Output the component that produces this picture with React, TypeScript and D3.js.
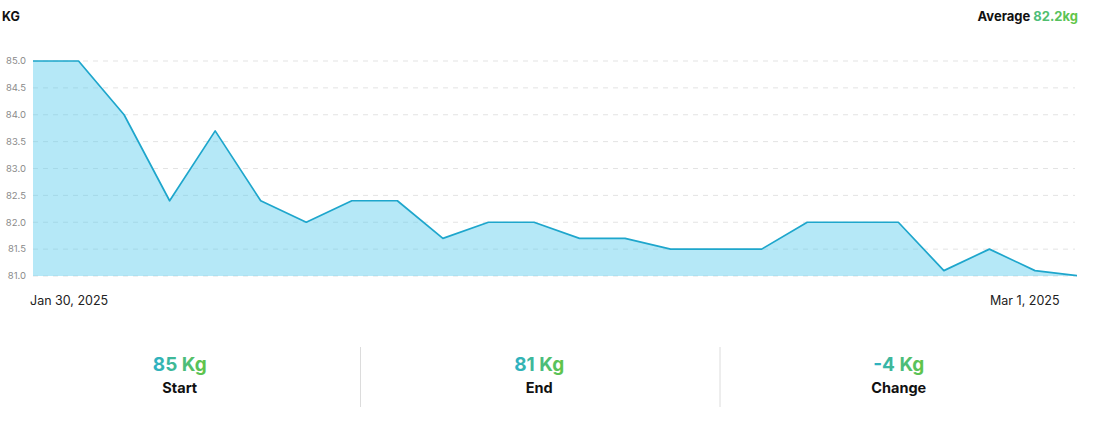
import React from "react";
import * as d3 from "d3";

const dates = [
  "2025-01-30","2025-01-31","2025-02-01","2025-02-02","2025-02-03","2025-02-04",
  "2025-02-05","2025-02-06","2025-02-07","2025-02-08","2025-02-09","2025-02-10",
  "2025-02-11","2025-02-12","2025-02-13","2025-02-14","2025-02-15","2025-02-16",
  "2025-02-17","2025-02-18","2025-02-19","2025-02-20","2025-02-21","2025-03-01",
];
const weights = [
  85.0, 85.0, 84.0, 82.4, 83.7, 82.4, 82.0, 82.4, 82.4, 81.7, 82.0, 82.0,
  81.7, 81.7, 81.5, 81.5, 81.5, 82.0, 82.0, 82.0, 81.1, 81.5, 81.1, 81.0,
];
const yTicks = [81.0, 81.5, 82.0, 82.5, 83.0, 83.5, 84.0, 84.5, 85.0];
const xLabels = ["Jan 30, 2025", "Mar 1, 2025"];
const statLabels = ["Start", "End", "Change"];

const W = 1095;
const H = 423;
const FONT = "Inter, 'Noto Sans', sans-serif";

export default function App() {
  const left = 33;
  const right = 1077;
  const top = 61;
  const bottom = 276;

  const x = d3.scalePoint<string>().domain(dates).range([left, 1080.5]);
  const y = d3.scaleLinear().domain([81, 85]).range([bottom, top]);

  const data = dates.map((d, i) => ({ d, v: weights[i] }));
  const line = d3.line<{ d: string; v: number }>().x((p) => x(p.d)!).y((p) => y(p.v));
  const area = d3
    .area<{ d: string; v: number }>()
    .x((p) => x(p.d)!)
    .y0(y(81))
    .y1((p) => y(p.v));

  const start = weights[0];
  const end = weights[weights.length - 1];
  const change = end - start;
  const avg = d3.mean(weights)!;
  const fmtInt = (v: number) => String(Math.round(v));
  const statValues = [`${fmtInt(start)} Kg`, `${fmtInt(end)} Kg`, `${fmtInt(change)} Kg`];

  const colW = 359.5;

  return (
    <svg
      width={W}
      height={H}
      style={{ position: "absolute", left: 0, top: 0, background: "#fff" }}
      fontFamily={FONT}
    >
      <defs>
        <linearGradient id="tg" x1="0" y1="0" x2="1" y2="0">
          <stop offset="0%" stopColor="#2bb0c8" />
          <stop offset="100%" stopColor="#62c544" />
        </linearGradient>
        <clipPath id="plotClip">
          <rect x={0} y={0} width={right} height={H} />
        </clipPath>
      </defs>

      <text x={2} y={21} fontSize={12.5} fontWeight={700} fill="#111">KG</text>
      <text x={1078} y={21} fontSize={13} fontWeight={700} textAnchor="end" fill="#111">
        Average{" "}
        <tspan fill="url(#tg)">{d3.format(".1f")(avg)}kg</tspan>
      </text>

      {yTicks.map((t) => (
        <g key={t}>
          <line
            x1={left}
            x2={1075}
            y1={y(t)}
            y2={y(t)}
            stroke="#e3e3e3"
            strokeDasharray="5,5"
            strokeWidth={1}
          />
          <text
            x={26}
            y={y(t)}
            dy="0.35em"
            fontSize={9.5}
            textAnchor="end"
            fill="#8a8a8a"
          >
            {d3.format(".1f")(t)}
          </text>
        </g>
      ))}

      <g clipPath="url(#plotClip)">
        <path d={area(data)!} fill="#5ccbee" fillOpacity={0.45} />
        <path d={line(data)!} fill="none" stroke="#1ea6cc" strokeWidth={1.7} strokeLinejoin="round" />
      </g>

      <text x={x(dates[0])! - 3} y={305} fontSize={12.5} fill="#222">{xLabels[0]}</text>
      <text x={x(dates[dates.length - 1])! - 21} y={305} fontSize={12.5} fill="#222" textAnchor="end">
        {xLabels[1]}
      </text>

      {statLabels.map((lab, i) => {
        const cx = colW * i + colW / 2;
        return (
          <g key={lab}>
            <text x={cx} y={371} fontSize={19} fontWeight={700} textAnchor="middle" fill="url(#tg)">
              {statValues[i]}
            </text>
            <text x={cx} y={393} fontSize={14.5} fontWeight={700} textAnchor="middle" fill="#111">
              {lab}
            </text>
            {i > 0 && (
              <line x1={colW * i + 1} x2={colW * i + 1} y1={347} y2={407} stroke="#dcdcdc" strokeWidth={1} />
            )}
          </g>
        );
      })}
    </svg>
  );
}
